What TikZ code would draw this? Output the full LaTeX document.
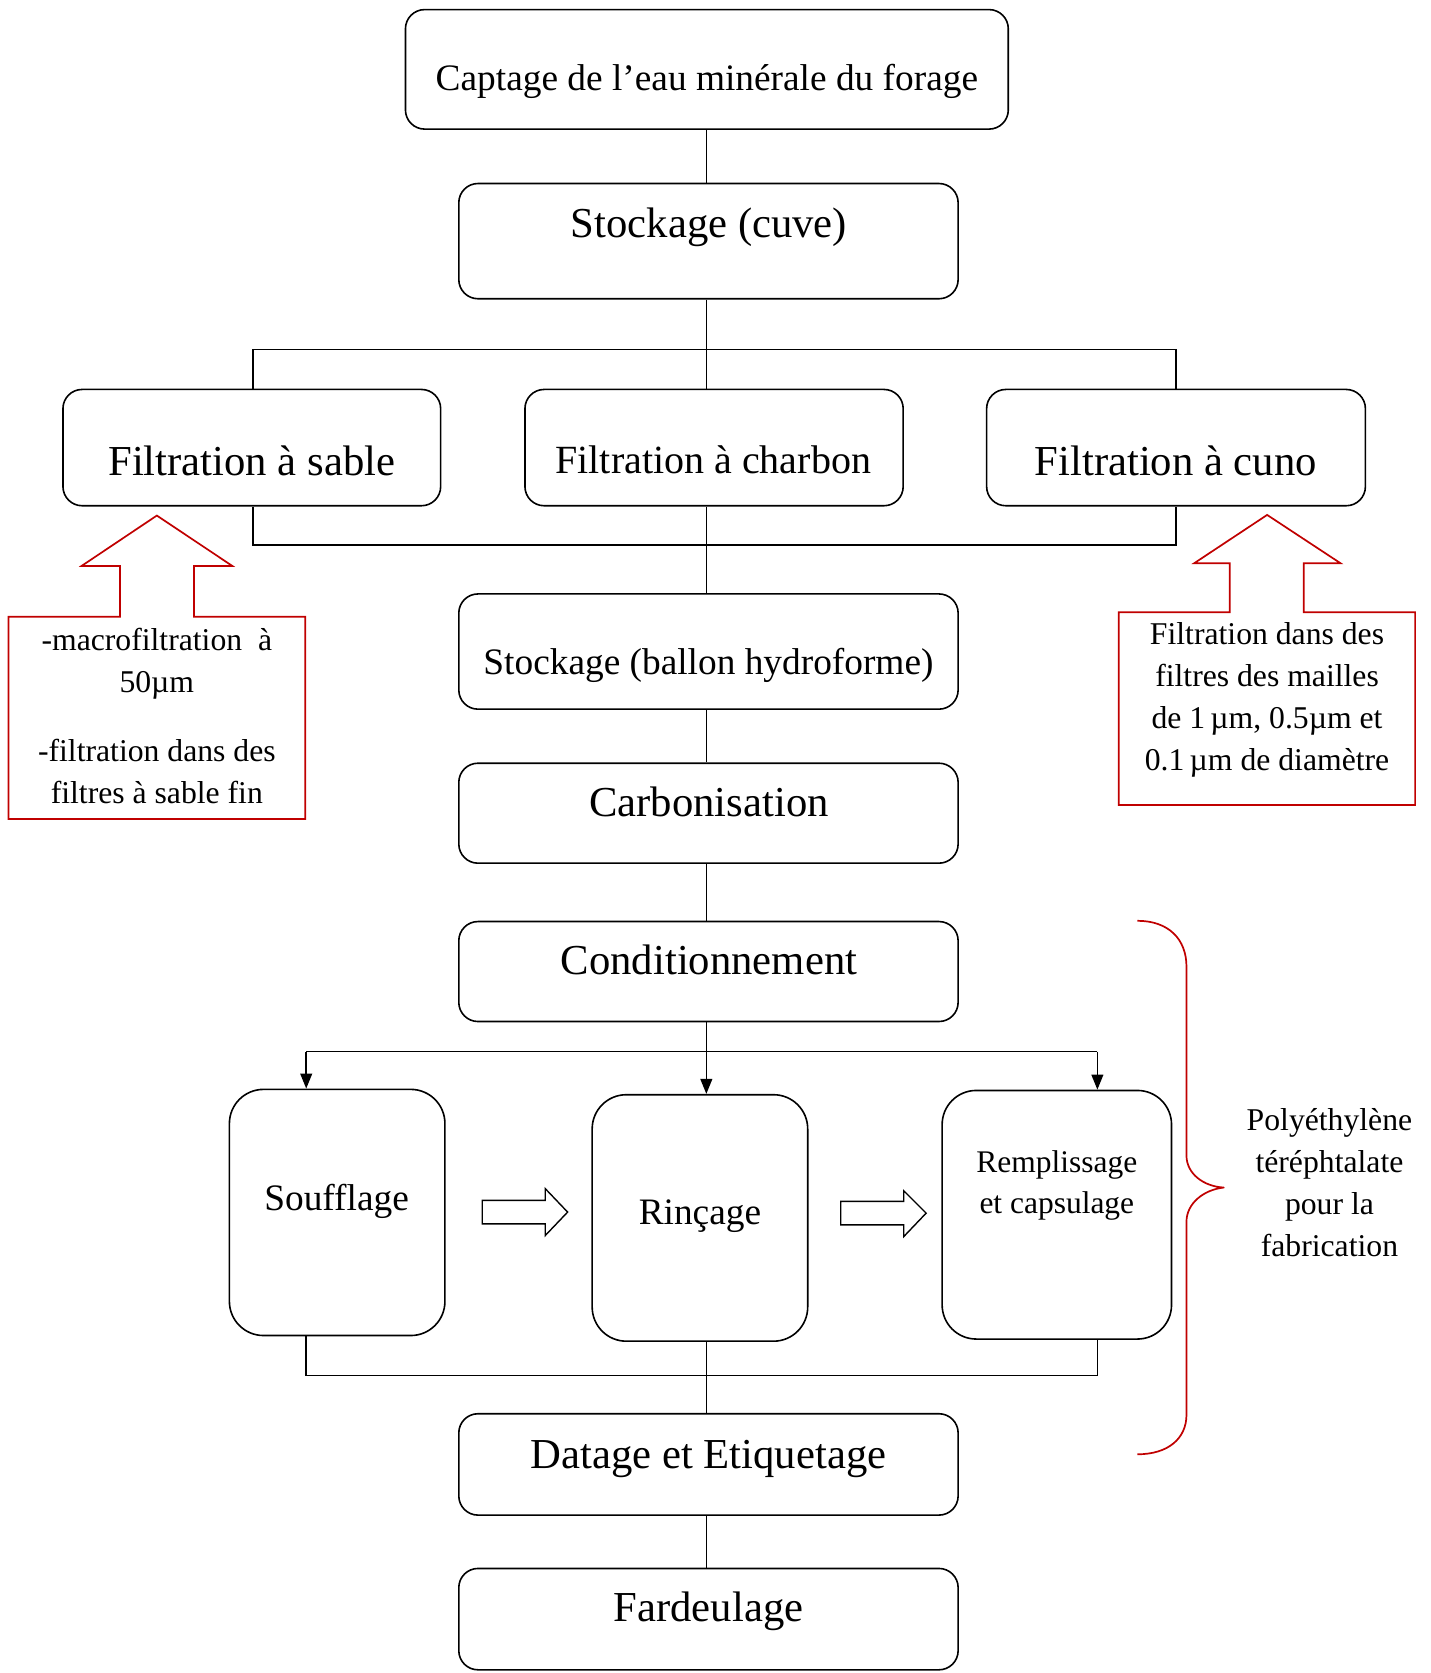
\documentclass[tikz,border=0pt]{standalone}
\usepackage{fontspec}
\setmainfont{Liberation Serif}
\usetikzlibrary{arrows.meta}
\definecolor{calred}{RGB}{192,0,0}
\begin{document}
\begin{tikzpicture}[x=1pt,y=-1pt,
  box/.style={draw, line width=1.5pt, rounded corners=18pt, inner sep=0pt},
  tallbox/.style={box, rounded corners=32pt},
  lbl/.style={anchor=base, inner sep=0pt},
  fbig/.style={font=\fontsize{40}{48}\selectfont},
  fmid/.style={font=\fontsize{35}{42}\selectfont},
  fsmall/.style={font=\fontsize{29.7}{39.4}\selectfont, align=center},
  conn/.style={line width=1.5pt},
  arr/.style={conn, -{Triangle[length=14pt,width=11pt]}},
  callout/.style={draw=calred, line width=1.6pt, line join=miter},
  hollow/.style={draw, line width=1.3pt, line join=miter},
]
\useasboundingbox (0,0) rectangle (1341,1568);

% boxes
\node[box, minimum width=565pt, minimum height=112pt] (captage) at (662.5,65) {};
\node[box, minimum width=468pt, minimum height=108pt] (stock1) at (664,226) {};
\node[box, minimum width=354pt, minimum height=109pt] (fsable) at (236,419.5) {};
\node[box, minimum width=354.5pt, minimum height=109pt] (fcharbon) at (669.25,419.5) {};
\node[box, minimum width=355pt, minimum height=109pt] (fcuno) at (1102.2,419.5) {};
\node[box, minimum width=468pt, minimum height=108pt] (ballon) at (664,610.65) {};
\node[box, minimum width=468pt, minimum height=93.7pt] (carbo) at (664,762.15) {};
\node[box, minimum width=468pt, minimum height=93.7pt] (cond) at (664,910.55) {};
\node[tallbox, minimum width=202pt, minimum height=230.7pt] (souff) at (316,1136.35) {};
\node[tallbox, minimum width=202pt, minimum height=231pt] (rincage) at (656,1141.5) {};
\node[tallbox, minimum width=215pt, minimum height=233pt] (rempl) at (990.5,1138.5) {};
\node[box, minimum width=468pt, minimum height=95pt] (datage) at (664,1372.5) {};
\node[box, minimum width=468pt, minimum height=95pt] (fard) at (664,1517.5) {};

% texts
\node[lbl, fmid] (captageT) at (662.5,85) {Captage de l’eau minérale du forage};
\node[lbl, fbig] (stock1T) at (664.5,222.4) {Stockage (cuve)};
\node[lbl, fbig] (fsableT) at (236,446) {Filtration à sable};
\node[lbl, font=\fontsize{37.5}{45}\selectfont] (fcharbonT) at (668.5,443.6) {Filtration à charbon};
\node[lbl, fbig] (fcunoT) at (1102,446) {Filtration à cuno};
\node[lbl, fmid] (ballonT) at (664,632.6) {Stockage (ballon hydroforme)};
\node[lbl, fbig] (carboT) at (664.5,765.3) {Carbonisation};
\node[lbl, fbig] (condT) at (664.5,913.7) {Conditionnement};
\node[lbl, fmid] (souffT) at (315.5,1134.6) {Soufflage};
\node[lbl, fmid] (rincageT) at (656,1148) {Rinçage};
\node[lbl, font=\fontsize{29.5}{39}\selectfont, align=center] (remplT) at (990.5,1137.7) {Remplissage\\et capsulage};
\node[lbl, fbig] (datageT) at (664,1376) {Datage et Etiquetage};
\node[lbl, fbig] (fardT) at (664,1519.7) {Fardeulage};

% connector coordinates
\coordinate (spine) at (662,0);
\coordinate (busTL) at (237,327.4);
\coordinate (busTR) at (1102,327.4);
\coordinate (busBL) at (237,510.7);
\coordinate (busBR) at (1102,510.7);
\coordinate (c3L) at (287,985.5);
\coordinate (c3R) at (1028.5,985.5);
\coordinate (c4L) at (287,1289);
\coordinate (c4R) at (1028.5,1289);

% connectors
\draw[conn] (captage.south -| spine) -- (stock1.north -| spine);
\draw[conn] (stock1.south -| spine) -- (spine |- busTL);
\draw[conn] (fsable.north -| busTL) -- (busTL) -- (busTR) -- (fcuno.north -| busTR);
\draw[conn] (spine |- busTL) -- (fcharbon.north -| spine);
\draw[conn] (fsable.south -| busBL) -- (busBL) -- (busBR) -- (fcuno.south -| busBR);
\draw[conn] (fcharbon.south -| spine) -- (ballon.north -| spine);
\draw[conn] (ballon.south -| spine) -- (carbo.north -| spine);
\draw[conn] (carbo.south -| spine) -- (cond.north -| spine);
\draw[arr] (cond.south -| spine) -- (rincage.north -| spine);
\draw[conn] (c3L) -- (c3R);
\draw[arr] (c3L) -- (souff.north -| c3L);
\draw[arr] (c3R) -- (rempl.north -| c3R);
\draw[conn] (souff.south -| c4L) -- (c4L) -- (c4R) -- (rempl.south -| c4R);
\draw[conn] (rincage.south -| spine) -- (datage.north -| spine);
\draw[conn] (datage.south -| spine) -- (fard.north -| spine);

% hollow arrows
\draw[hollow] (452,1125) -- (511,1125) -- (511,1114) -- (532,1136) -- (511,1158) -- (511,1147) -- (452,1147) -- cycle;
\draw[hollow] (788,1126) -- (847,1126) -- (847,1116) -- (868,1137) -- (847,1159) -- (847,1148) -- (788,1148) -- cycle;

% red callouts
\draw[callout] (8,578) -- (112.5,578) -- (112.5,530.4) -- (76.5,530.4) -- (147,483.2) -- (217.7,530.4) -- (181.8,530.4) -- (181.8,578) -- (286,578) -- (286,767.5) -- (8,767.5) -- cycle;
\node[lbl, fsmall] (leftT) at (147,753) {-macrofiltration\ \ à\\50µm\\[25pt]-filtration dans des\\filtres à sable fin};

\draw[callout] (1048.6,573.8) -- (1152.6,573.8) -- (1152.6,527.9) -- (1119.2,527.9) -- (1187.6,482.6) -- (1256.4,527.9) -- (1222,527.9) -- (1222,573.8) -- (1326.3,573.8) -- (1326.3,754.4) -- (1048.6,754.4) -- cycle;
\node[lbl, fsmall] (rightT) at (1187.5,722.5) {Filtration dans des\\filtres des mailles\\de 1\,µm, 0.5µm et\\0.1\,µm de diamètre};

% brace
\draw[callout, line join=round] (1066,863) .. controls (1095,863) and (1112,880) .. (1112,906) -- (1112,1083) .. controls (1112,1100) and (1128,1112) .. (1147,1113) .. controls (1128,1115) and (1112,1128) .. (1112,1145) -- (1112,1326) .. controls (1112,1348) and (1095,1363) .. (1066,1363);
\node[lbl, fsmall] (polyT) at (1246,1178) {Polyéthylène\\téréphtalate\\pour la\\fabrication};
\end{tikzpicture}
\end{document}
